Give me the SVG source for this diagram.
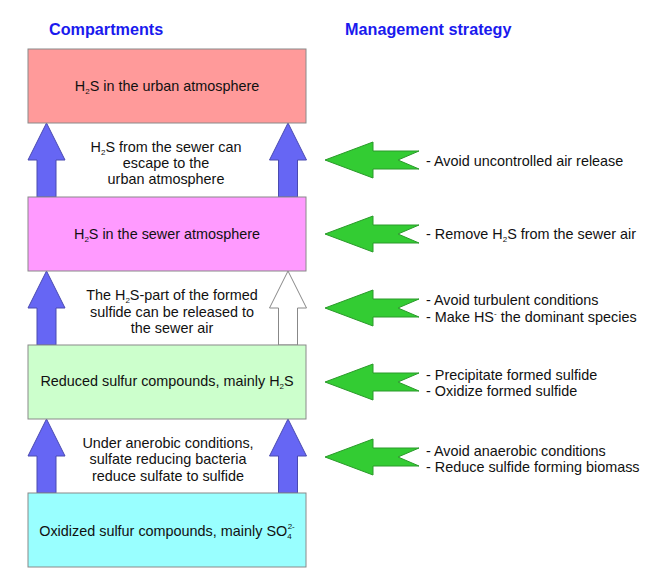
<svg xmlns="http://www.w3.org/2000/svg" width="649" height="579" viewBox="0 0 649 579">
<style>
  text { font-family: "Liberation Sans", Arial, sans-serif; font-size: 14.4px; fill: #111; }
  .title { font-weight: bold; font-size: 16.2px; fill: #1a1aee; }
  .c { text-anchor: middle; }
  .box { stroke: #8a8a8a; stroke-width: 1; }
  .up { fill: #6666f4; stroke: #4a4ab0; stroke-width: 1; }
  .upw { fill: #ffffff; stroke: #888888; stroke-width: 1; }
  .gr { fill: #33cc33; stroke: #2a9a2a; stroke-width: 1; }
  .sub { font-size: 8px; }
</style>
<defs>
  <path id="uparrow" d="M0,0 L18.5,37 L9.5,37 L9.5,74 L-9.5,74 L-9.5,37 L-18.5,37 Z"/>
  <path id="lefta" d="M0,0 L48,-18 L48,-9 L94,-9 L73,0 L94,9 L48,9 L48,18 Z"/>
</defs>
<rect width="649" height="579" fill="#ffffff"/>

<text class="title" x="49" y="35">Compartments</text>
<text class="title" x="345" y="35">Management strategy</text>

<g id="connectors">
  <use href="#uparrow" class="up" x="46.5" y="123"/>
  <use href="#uparrow" class="up" x="288" y="123"/>
  <use href="#uparrow" class="up" x="46.5" y="271"/>
  <use href="#uparrow" class="upw" x="288" y="271"/>
  <use href="#uparrow" class="up" x="46.5" y="419"/>
  <use href="#uparrow" class="up" x="288" y="419"/>
  <use href="#lefta" class="gr" x="325" y="160"/>
  <use href="#lefta" class="gr" x="325" y="234"/>
  <use href="#lefta" class="gr" x="325" y="308"/>
  <use href="#lefta" class="gr" x="325" y="382"/>
  <use href="#lefta" class="gr" x="325" y="457"/>
</g>

<g id="node-urban">
  <rect class="box" x="28" y="49" width="278" height="74" fill="#ff9a9a"/>
  <text class="c" x="167" y="91">H<tspan class="sub" dy="3">2</tspan><tspan dy="-3">S in the urban atmosphere</tspan></text>
</g>
<g id="node-sewer-air">
  <rect class="box" x="28" y="197" width="278" height="74" fill="#ff9aff"/>
  <text class="c" x="167" y="239">H<tspan class="sub" dy="3">2</tspan><tspan dy="-3">S in the sewer atmosphere</tspan></text>
</g>
<g id="node-reduced">
  <rect class="box" x="28" y="345" width="278" height="74" fill="#ccffcc"/>
  <text class="c" x="167" y="386">Reduced sulfur compounds, mainly H<tspan class="sub" dy="3">2</tspan><tspan dy="-3">S</tspan></text>
</g>
<g id="node-oxidized">
  <rect class="box" x="28" y="493" width="278" height="74" fill="#99ffff"/>
  <text class="c" x="167" y="536">Oxidized sulfur compounds, mainly SO<tspan class="sub" dy="3">4</tspan><tspan class="sub" dx="-4" dy="-10">2-</tspan></text>
</g>

<g id="label-escape">
  <text class="c" x="166" y="152">H<tspan class="sub" dy="3">2</tspan><tspan dy="-3">S from the sewer can</tspan></text>
  <text class="c" x="166" y="168">escape to the</text>
  <text class="c" x="166" y="184">urban atmosphere</text>
</g>
<g id="label-release">
  <text class="c" x="172" y="300">The H<tspan class="sub" dy="3">2</tspan><tspan dy="-3">S-part of the formed</tspan></text>
  <text class="c" x="172" y="317">sulfide can be released to</text>
  <text class="c" x="172" y="333">the sewer air</text>
</g>
<g id="label-srb">
  <text class="c" x="168" y="448">Under anerobic conditions,</text>
  <text class="c" x="168" y="464">sulfate reducing bacteria</text>
  <text class="c" x="168" y="481">reduce sulfate to sulfide</text>
</g>

<g id="strategy-1">
  <text x="426" y="166">- Avoid uncontrolled air release</text>
</g>
<g id="strategy-2">
  <text x="426" y="239">- Remove H<tspan class="sub" dy="3">2</tspan><tspan dy="-3">S from the sewer air</tspan></text>
</g>
<g id="strategy-3">
  <text x="426" y="305">- Avoid turbulent conditions</text>
  <text x="426" y="322">- Make HS<tspan class="sub" dy="-6">-</tspan><tspan dy="6"> the dominant species</tspan></text>
</g>
<g id="strategy-4">
  <text x="426" y="380">- Precipitate formed sulfide</text>
  <text x="426" y="396">- Oxidize formed sulfide</text>
</g>
<g id="strategy-5">
  <text x="426" y="456">- Avoid anaerobic conditions</text>
  <text x="426" y="472">- Reduce sulfide forming biomass</text>
</g>
</svg>
